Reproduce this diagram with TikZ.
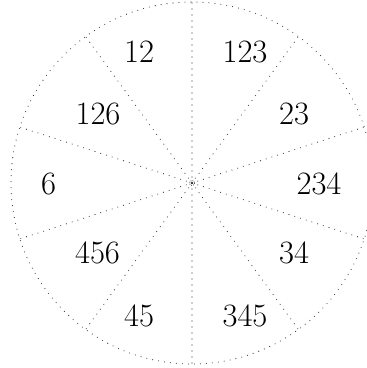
\documentclass[tikz,border=0pt]{standalone}
\usetikzlibrary{calc}
\begin{document}
\begin{tikzpicture}[x=0.5pt,y=-0.5pt,
  dotline/.style={line width=0.55pt,line cap=round,dash pattern=on 0pt off 3pt,black!80},
  lbl/.style={inner sep=0pt,font=\fontsize{16.3}{19}\selectfont}]
\useasboundingbox (0,0) rectangle (366,368);
\coordinate (O) at (192,183);
\draw[dotline] (O) circle[radius=181];
\foreach \a [count=\i] in {90,54,18,-18,-54,-90,-126,-162,162,126} {
  \coordinate (R\i) at ($(O)+(\a:181)$);
  \draw[dotline] (O) -- (R\i);
}
\draw[line width=0.4pt,dash pattern=on 0.4pt off 0.6pt,black!80] (O) circle[radius=2.5];
\node[lbl] (n12)  at (139,52)  {12};
\node[lbl] (n123) at (245,52)  {123};
\node[lbl] (n126) at (98,114)  {126};
\node[lbl] (n23)  at (294,114) {23};
\node[lbl] (n6)   at (48.5,184) {6};
\node[lbl] (n234) at (319,184) {234};
\node[lbl] (n456) at (97.5,253) {456};
\node[lbl] (n34)  at (294,253) {34};
\node[lbl] (n45)  at (139,316) {45};
\node[lbl] (n345) at (245,316) {345};
\end{tikzpicture}
\end{document}
